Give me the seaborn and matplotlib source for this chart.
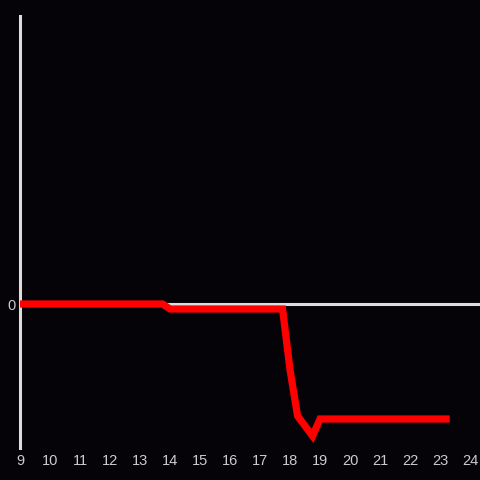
import matplotlib
matplotlib.use("Agg")
import matplotlib.pyplot as plt
import seaborn as sns
import pandas as pd

# hora del dia (horas decimales) y valor
horas = [9.0, 13.75, 14.0, 17.75, 18.0, 18.25, 18.75, 19.0, 23.2]
valores = [0.0, 0.0, -0.05, -0.05, -0.66, -1.12, -1.32, -1.15, -1.15]
ticks_x = list(range(9, 25))

df = pd.DataFrame({"hora": horas, "valor": valores})

sns.set_style("dark")
plt.rcParams["font.family"] = ["Liberation Sans", "DejaVu Sans"]

bg = "#050307"
fig = plt.figure(figsize=(4.8, 4.8), dpi=100, facecolor=bg)
ax = fig.add_axes([20 / 480, 32 / 480, 460 / 480, 432 / 480])
ax.set_facecolor(bg)

ax.axhline(0, color="#dddddd", lw=2.2, zorder=1)
sns.lineplot(data=df, x="hora", y="valor", color="#ff0000", lw=5.2, ax=ax,
             zorder=3, solid_joinstyle="miter", solid_capstyle="projecting")

ax.set_xlim(9, 24.33)
ax.set_ylim(-1.44, 2.88)
ax.set_xticks(ticks_x)
ax.set_xticklabels([str(t) for t in ticks_x])
ax.set_yticks([0])
ax.set_yticklabels(["0"])
ax.tick_params(colors="#cccccc", labelsize=10.5, length=0, pad=4)
ax.tick_params(axis="y", pad=3)
ax.set_xlabel("")
ax.set_ylabel("")
ax.grid(False)

for s in ["top", "right", "bottom"]:
    ax.spines[s].set_visible(False)
ax.spines["left"].set_color("#dddddd")
ax.spines["left"].set_linewidth(2.2)

fig.savefig("out.png", dpi=100, facecolor=bg)
